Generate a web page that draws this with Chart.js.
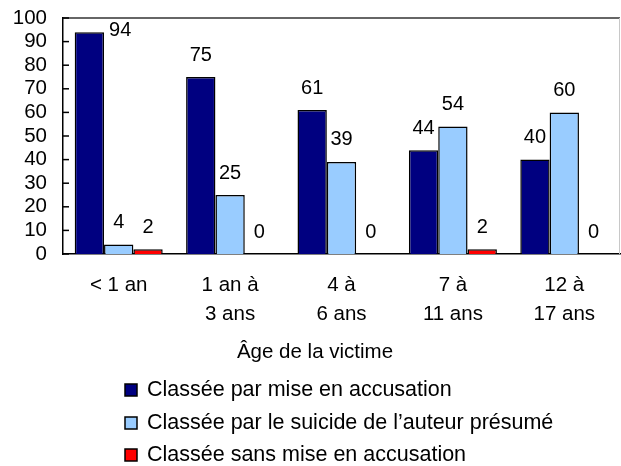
<!DOCTYPE html>
<html>
<head>
<meta charset="utf-8">
<script src="https://cdn.jsdelivr.net/npm/chart.js@4.4.1/dist/chart.umd.min.js"></script>
<style>
html, body { margin: 0; padding: 0; background: #ffffff; }
#wrap { width: 621px; height: 466px; }
</style>
</head>
<body>
<div id="wrap"><canvas id="c" width="621" height="466"></canvas></div>
<script>
// ---- data ----
const categories = [["< 1 an"], ["1 an à", "3 ans"], ["4 à", "6 ans"], ["7 à", "11 ans"], ["12 à", "17 ans"]];
const seriesNames = ["Classée par mise en accusation", "Classée par le suicide de l’auteur présumé", "Classée sans mise en accusation"];
const chargedValues = [94, 75, 61, 44, 40];
const suicideValues = [4, 25, 39, 54, 60];
const notChargedValues = [2, 0, 0, 2, 0];
const yTickValues = [0, 10, 20, 30, 40, 50, 60, 70, 80, 90, 100];
const xAxisTitle = "Âge de la victime";

const seriesColors = ["#000080", "#99CCFF", "#FF0000"];
const FONT = '"Liberation Sans", Arial, Helvetica, sans-serif';

const extras = {
  id: 'extras',
  afterDatasetsDraw(chart) {
    const ctx = chart.ctx;
    const area = chart.chartArea;
    const yScale = chart.scales.y;
    ctx.save();
    // top and right frame lines
    ctx.strokeStyle = '#333333';
    ctx.lineWidth = 1.5;
    ctx.beginPath();
    ctx.moveTo(area.left, area.top);
    ctx.lineTo(area.right, area.top);
    ctx.stroke();
    ctx.strokeStyle = '#c8c8c8';
    ctx.lineWidth = 1;
    ctx.beginPath();
    ctx.moveTo(area.right - 0.5, area.top);
    ctx.lineTo(area.right - 0.5, area.bottom);
    ctx.stroke();
    // inward tick marks on value axis
    ctx.strokeStyle = '#000000';
    ctx.lineWidth = 1.5;
    yTickValues.forEach(v => {
      const py = yScale.getPixelForValue(v);
      ctx.beginPath();
      ctx.moveTo(area.left, py);
      ctx.lineTo(area.left + 6, py);
      ctx.stroke();
    });
    // data labels
    ctx.fillStyle = '#000000';
    ctx.font = '20px ' + FONT;
    ctx.textBaseline = 'middle';
    chart.data.datasets.forEach((ds, i) => {
      const meta = chart.getDatasetMeta(i);
      meta.data.forEach((bar, j) => {
        const v = ds.data[j];
        let x = bar.x, y = bar.y - 22;
        ctx.textAlign = 'center';
        if (y < area.top + 10) {
          ctx.textAlign = 'left';
          x = bar.x + bar.width / 2 + 5;
          y = bar.y - 2;
        }
        ctx.fillText(String(v), x, y);
      });
    });
    ctx.restore();
  },
  afterDraw(chart) {
    const ctx = chart.ctx;
    ctx.save();
    // axis title
    ctx.fillStyle = '#000000';
    ctx.font = '20.5px ' + FONT;
    ctx.textAlign = 'center';
    ctx.textBaseline = 'middle';
    ctx.fillText(xAxisTitle, 315, 352);
    // legend
    const rows = [390, 423, 455];
    ctx.font = '21.5px ' + FONT;
    ctx.textAlign = 'left';
    chart.data.datasets.forEach((ds, i) => {
      const cy = rows[i];
      ctx.fillStyle = ds.backgroundColor;
      ctx.fillRect(125, cy - 6, 12, 12);
      ctx.strokeStyle = '#000000';
      ctx.lineWidth = 1.5;
      ctx.strokeRect(125, cy - 6, 12, 12);
      ctx.fillStyle = '#000000';
      ctx.fillText(ds.label, 147, cy);
    });
    ctx.restore();
  }
};

new Chart(document.getElementById('c'), {
  type: 'bar',
  data: {
    labels: categories,
    datasets: [
      { label: seriesNames[0], data: chargedValues, backgroundColor: seriesColors[0] },
      { label: seriesNames[1], data: suicideValues, backgroundColor: seriesColors[1] },
      { label: seriesNames[2], data: notChargedValues, backgroundColor: seriesColors[2] }
    ]
  },
  options: {
    responsive: false,
    animation: false,
    devicePixelRatio: 1,
    datasets: {
      bar: {
        categoryPercentage: 0.79,
        barPercentage: 1.0,
        borderColor: '#000000',
        borderWidth: 1.5
      }
    },
    layout: { padding: { left: 0, right: 1, top: 18, bottom: 92 } },
    plugins: {
      legend: { display: false },
      tooltip: { enabled: false },
      title: { display: false }
    },
    scales: {
      x: {
        grid: { display: false, drawTicks: false },
        border: { display: true, color: '#000000', width: 1.5 },
        ticks: {
          color: '#000000',
          font: { family: FONT, size: 20.5, lineHeight: 1.4 },
          padding: 17,
          maxRotation: 0,
          autoSkip: false
        },
        afterFit(scale) { scale.height = 120; }
      },
      y: {
        min: 0,
        max: 100,
        grid: { display: false, drawTicks: false },
        border: { display: true, color: '#000000', width: 1.5 },
        ticks: {
          stepSize: 10,
          autoSkip: false,
          color: '#000000',
          font: { family: FONT, size: 20.5 },
          padding: 16
        },
        afterFit(scale) { scale.width = 63; scale.paddingTop = 0; scale.paddingBottom = 0; }
      }
    }
  },
  plugins: [extras]
});
</script>
</body>
</html>
